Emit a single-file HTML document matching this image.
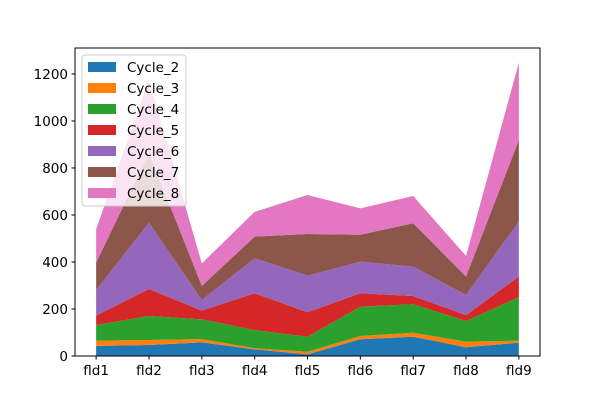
<!DOCTYPE html>
<html><head><meta charset="utf-8"><style>
body{margin:0;background:#fff;}
svg text{font-family:"DejaVu Sans","Liberation Sans",sans-serif;font-size:13.5px;fill:#000;}
</style></head><body>
<svg id="chart" width="600" height="400" xmlns="http://www.w3.org/2000/svg">
<rect width="600" height="400" fill="#fff"/>
<g id="areas"></g>
<rect x="75" y="48" width="465" height="308" fill="none" stroke="#000" stroke-width="1"/>
<g id="axes"></g>
<g id="legend"></g>
</svg>
<script>
const categories = ["fld1","fld2","fld3","fld4","fld5","fld6","fld7","fld8","fld9"];
const seriesNames = ["Cycle_2","Cycle_3","Cycle_4","Cycle_5","Cycle_6","Cycle_7","Cycle_8"];
const cycle2 = [43,47,58,28,7,71,82,37,57];
const cycle3 = [22,21,14,5,11,14,17,24,8];
const cycle4 = [67,102,84,77,64,125,121,88,185];
const cycle5 = [40,115,37,157,104,57,35,25,88];
const cycle6 = [109,282,45,149,156,134,125,86,234];
const cycle7 = [116,298,60,92,177,115,185,78,347];
const cycle8 = [142,309,96,105,166,112,116,88,329];
const yTicks = [0,200,400,600,800,1000,1200];
const colors = ["#1f77b4","#ff7f0e","#2ca02c","#d62728","#9467bd","#8c564b","#e377c2"];
const series = [cycle2,cycle3,cycle4,cycle5,cycle6,cycle7,cycle8];

const NS="http://www.w3.org/2000/svg";
const L=75,R=540,T=48,B=356;
const n=categories.length;
const xPad=0.4;
function xs(i){return L+(i+xPad)*(R-L)/(n-1+2*xPad);}
const totals=categories.map((c,i)=>series.reduce((s,a)=>s+a[i],0));
const yMax=Math.max(...totals)*1.05;
function ys(v){return B-v*(B-T)/yMax;}

const areas=document.getElementById('areas');
let base=categories.map(()=>0);
series.forEach((arr,k)=>{
  const top=base.map((b,i)=>b+arr[i]);
  let pts=[];
  for(let i=0;i<n;i++)pts.push(xs(i).toFixed(2)+","+ys(top[i]).toFixed(2));
  for(let i=n-1;i>=0;i--)pts.push(xs(i).toFixed(2)+","+ys(base[i]).toFixed(2));
  const p=document.createElementNS(NS,'polygon');
  p.setAttribute('points',pts.join(' '));
  p.setAttribute('fill',colors[k]);
  
  
  areas.appendChild(p);
  base=top;
});

const axes=document.getElementById('axes');
function add(tag,attrs,parent,text){const e=document.createElementNS(NS,tag);for(const k in attrs)e.setAttribute(k,attrs[k]);if(text!==undefined)e.textContent=text;parent.appendChild(e);return e;}
categories.forEach((c,i)=>{
  const x=xs(i);
  const t=add('line',{x1:x,x2:x,y1:B,y2:B+3.5,stroke:'#000'},axes);
  
  
  const lb=add('text',{x:x,y:B+19,'text-anchor':'middle'},axes,c);
  
  
});
yTicks.forEach(v=>{
  const y=ys(v);
  const t=add('line',{x1:L-3.5,x2:L,y1:y,y2:y,stroke:'#000'},axes);
  
  
  const lb=add('text',{x:L-7,y:y+5,'text-anchor':'end'},axes,String(v));
  
  
});

const lg=document.getElementById('legend');
const box=add('rect',{x:82,y:55,width:104,height:151,rx:3,fill:'#fff','fill-opacity':0.8,stroke:'#ccc'},lg);


seriesNames.forEach((s,k)=>{
  const y=67+k*21;
  const g=add('g',{},lg);
  
  
  add('rect',{x:88,y:y-5,width:28,height:10,fill:colors[k]},g);
  add('text',{x:127,y:y+5},g,s);
});
</script>
</body></html>
